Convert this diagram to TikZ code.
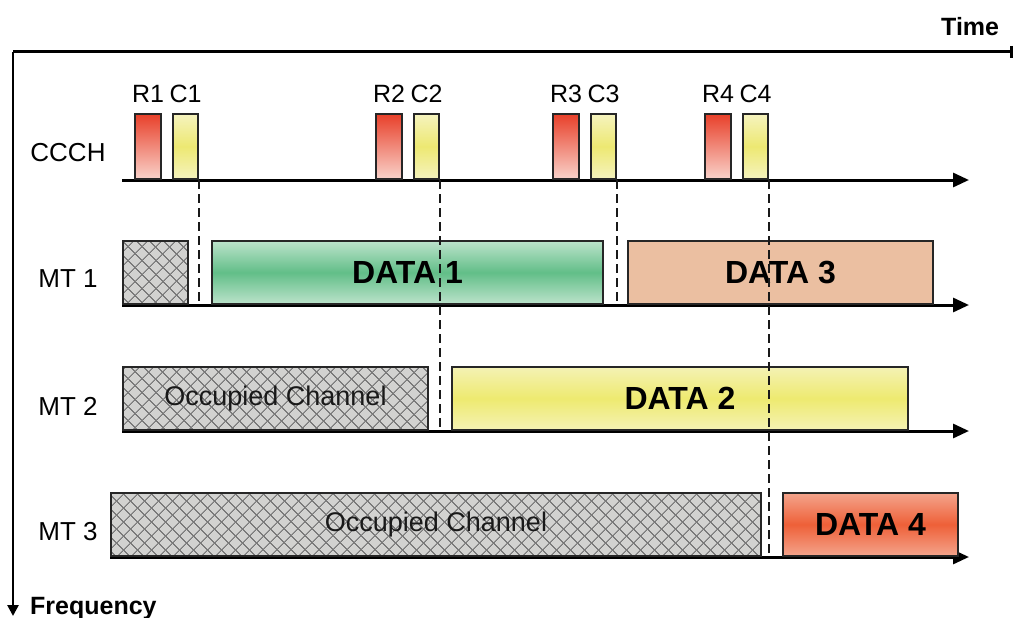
\documentclass[tikz,border=0pt]{standalone}
\usepackage{fontspec}
\setmainfont{Liberation Sans}
\usetikzlibrary{arrows.meta}
\usetikzlibrary{shapes}
\usetikzlibrary{patterns.meta}
\usetikzlibrary{positioning}
\definecolor{reqTop}{HTML}{E8402A}
\definecolor{reqBot}{HTML}{F9D2CA}
\definecolor{confPale}{HTML}{F5F3BE}
\definecolor{confMid}{HTML}{EDE872}
\definecolor{greenPale}{HTML}{BCE3CB}
\definecolor{greenMid}{HTML}{62BE88}
\definecolor{yellowPale}{HTML}{F4F2B4}
\definecolor{yellowMid}{HTML}{EEEA70}
\definecolor{orangePale}{HTML}{F4A48C}
\definecolor{orangeMid}{HTML}{EE6038}
\definecolor{salmonFlat}{HTML}{EBBFA1}
\definecolor{busyGray}{HTML}{D2D2D0}
\definecolor{hatchGray}{HTML}{7A7A7A}
\begin{document}
\begin{tikzpicture}[x = 1pt, y = -1pt]
\tikzstyle{axisStyle} = [line width = 3pt, -{Triangle[length = 16pt, width = 14pt]}]
\tikzstyle{dashStyle} = [line width = 1.6pt, dash pattern = on 9pt off 5pt, black!90]
\tikzstyle{slotStyle} = [draw = black!85, line width = 2pt, inner sep = 0pt, anchor = south west]
\tikzstyle{reqStyle} = [slotStyle, top color = reqTop, bottom color = reqBot, minimum width = 26pt, minimum height = 65pt]
\tikzstyle{confStyle} = [slotStyle, top color = confPale, bottom color = confPale, middle color = confMid, minimum width = 25pt, minimum height = 65pt]
\tikzstyle{busyStyle} = [slotStyle, preaction = {fill = busyGray}, pattern = {Hatch[angle = 45, distance = 10.5pt, line width = 1.1pt]}, pattern color = hatchGray, font = \fontsize{27}{30}\selectfont, text = black!90]
\tikzstyle{dataStyle} = [slotStyle, font = \bfseries\fontsize{32}{36}\selectfont]
\tikzstyle{rowLabel} = [font = \fontsize{26}{30}\selectfont]
\tikzstyle{slotLabel} = [font = \fontsize{25}{30}\selectfont, inner sep = 0pt]
\tikzstyle{axisLabel} = [font = \bfseries\fontsize{25}{30}\selectfont, inner sep = 0pt]
\useasboundingbox (0,0) rectangle (1013,618);
\coordinate (orig) at (13,52);
\coordinate (timeEnd) at (1013,52);
\coordinate (freqEnd) at (13,616);
\coordinate (ccchA) at (122,180);
\coordinate (ccchB) at (969,180);
\coordinate (mt1A) at (122,305);
\coordinate (mt1B) at (969,305);
\coordinate (mt2A) at (122,431);
\coordinate (mt2B) at (969,431);
\coordinate (mt3A) at (110,557);
\coordinate (mt3B) at (969,557);
\draw[line width = 3pt, -{Bar[width = 12pt]}] (orig) -- (timeEnd);
\draw[line width = 2.6pt, -{Triangle[length = 11pt, width = 11pt]}] (orig) -- (freqEnd);
\node[axisLabel, anchor = base west] (timeLbl) at (941,36) {Time};
\node[axisLabel, anchor = base west] (freqLbl) at (30,614) {Frequency};
\draw[axisStyle] (ccchA) -- (ccchB);
\draw[axisStyle] (mt1A) -- (mt1B);
\draw[axisStyle] (mt2A) -- (mt2B);
\draw[axisStyle] (mt3A) -- (mt3B);
\node[rowLabel] (ccchLbl) at (68,153) {CCCH};
\node[rowLabel] (mt1Lbl) at (68,279) {MT 1};
\node[rowLabel] (mt2Lbl) at (68,406) {MT 2};
\node[rowLabel] (mt3Lbl) at (68,532) {MT 3};
\node[reqStyle] (R1) at (134,180) {};
\node[confStyle] (C1) at (172,180) {};
\node[reqStyle] (R2) at (375,180) {};
\node[confStyle] (C2) at (413,180) {};
\node[reqStyle] (R3) at (552,180) {};
\node[confStyle] (C3) at (590,180) {};
\node[reqStyle] (R4) at (704,180) {};
\node[confStyle] (C4) at (742,180) {};
\node[slotLabel, above = 10pt of R1] (R1lbl) {R1};
\node[slotLabel, above = 10pt of C1] (C1lbl) {C1};
\node[slotLabel, above = 10pt of R2] (R2lbl) {R2};
\node[slotLabel, above = 10pt of C2] (C2lbl) {C2};
\node[slotLabel, above = 10pt of R3] (R3lbl) {R3};
\node[slotLabel, above = 10pt of C3] (C3lbl) {C3};
\node[slotLabel, above = 10pt of R4] (R4lbl) {R4};
\node[slotLabel, above = 10pt of C4] (C4lbl) {C4};
\node[busyStyle, minimum width = 65pt, minimum height = 63pt] (busy1) at (122,305) {};
\node[dataStyle, top color = greenPale, bottom color = greenPale, middle color = greenMid, minimum width = 391pt, minimum height = 63pt] (data1) at (211,305) {DATA 1};
\node[dataStyle, fill = salmonFlat, minimum width = 305pt, minimum height = 63pt] (data3) at (627,305) {DATA 3};
\node[busyStyle, minimum width = 305pt, minimum height = 63pt] (busy2) at (122,431) {Occupied Channel};
\node[dataStyle, top color = yellowPale, bottom color = yellowPale, middle color = yellowMid, minimum width = 456pt, minimum height = 63pt] (data2) at (451,431) {DATA 2};
\node[busyStyle, minimum width = 650pt, minimum height = 63pt] (busy3) at (110,557) {Occupied Channel};
\node[dataStyle, top color = orangePale, bottom color = orangePale, middle color = orangeMid, minimum width = 175pt, minimum height = 63pt] (data4) at (782,557) {DATA 4};
\draw[dashStyle] (C1.south east) -- (C1.south east |- mt1A);
\draw[dashStyle] (C2.south east) -- (C2.south east |- mt2A);
\draw[dashStyle] (C3.south east) -- (C3.south east |- mt1A);
\draw[dashStyle] (C4.south east) -- (C4.south east |- mt3A);
\end{tikzpicture}
\end{document}
